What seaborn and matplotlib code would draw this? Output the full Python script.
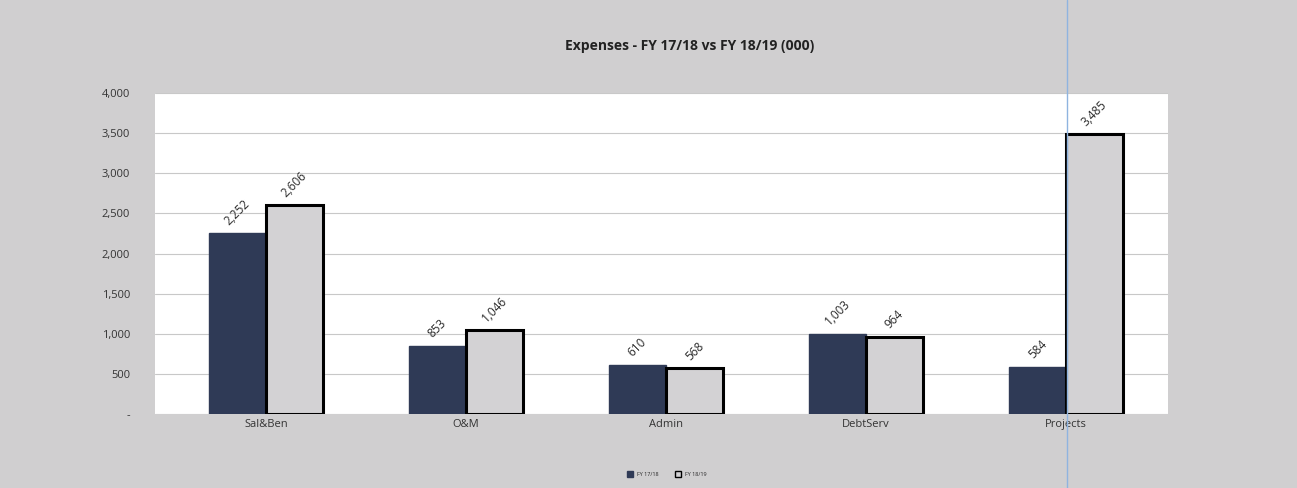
import numpy as np
import pandas as pd
import seaborn as sns
import matplotlib.pyplot as plt
from matplotlib.lines import Line2D
from matplotlib.ticker import FuncFormatter

categories = ['Sal&Ben', 'O&M', 'Admin', 'DebtServ', 'Projects']
fy1718 = [2252, 853, 610, 1003, 584]
fy1819 = [2606, 1046, 568, 964, 3485]
series = ['FY 17/18', 'FY 18/19']

df = pd.DataFrame({
    'category': categories * 2,
    'value': fy1718 + fy1819,
    'year': [series[0]] * len(categories) + [series[1]] * len(categories),
})

sns.set_style('white')
plt.rcParams['font.family'] = ['Open Sans', 'DejaVu Sans']

fig = plt.figure(figsize=(12.97, 4.88), dpi=100)
fig.patch.set_facecolor('#d0cfd0')
ax = fig.add_axes([0.1195, 0.1516, 0.781, 0.6578])
ax.set_facecolor('white')

colors = ['#2f3a56', '#d3d2d4']
sns.barplot(data=df, x='category', y='value', hue='year', palette=colors,
            width=0.57, saturation=1, ax=ax, legend=False)

# outline the FY 18/19 bars
for cont, col in zip(ax.containers, colors):
    for bar in cont:
        if col == colors[1]:
            bar.set_edgecolor('black')
            bar.set_linewidth(2.2)
        else:
            bar.set_edgecolor(col)
    ax.bar_label(cont, labels=[f'{v:,.0f}' for v in cont.datavalues],
                 rotation=45, padding=4, fontsize=8.5, color='#2a2a2a')

ax.set_ylim(0, 4000)
ax.set_xlim(-0.555, 4.51)
ax.set_yticks(np.arange(0, 4001, 500))
ax.yaxis.set_major_formatter(FuncFormatter(lambda v, p: '-' if v == 0 else f'{v:,.0f}'))
ax.yaxis.grid(True, color='#c8c8c8', linewidth=0.8)
ax.set_axisbelow(True)
for s in ax.spines.values():
    s.set_visible(False)
ax.tick_params(axis='both', labelsize=8, colors='#333333', length=0)
ax.tick_params(axis='y', pad=18)
ax.set_xlabel('')
ax.set_ylabel('')

fig.text(0.532, 0.905, 'Expenses - FY 17/18 vs FY 18/19 (000)', ha='center',
         va='center', fontsize=10, fontweight='bold', color='#222222')

handles = [Line2D([], [], marker='s', linestyle='', markersize=4,
                  markerfacecolor=colors[0], markeredgecolor=colors[0]),
           Line2D([], [], marker='s', linestyle='', markersize=4,
                  markerfacecolor=colors[1], markeredgecolor='black')]
fig.legend(handles, series, loc='center', bbox_to_anchor=(0.513, 0.027),
           ncol=2, frameon=False, fontsize=4, handletextpad=0.2,
           columnspacing=2.5)

# thin blue scan line
fig.add_artist(Line2D([0.823, 0.823], [0, 1], color='#8fb4e0', linewidth=1,
                      transform=fig.transFigure))

fig.savefig('out.png', dpi=100, facecolor=fig.get_facecolor())
